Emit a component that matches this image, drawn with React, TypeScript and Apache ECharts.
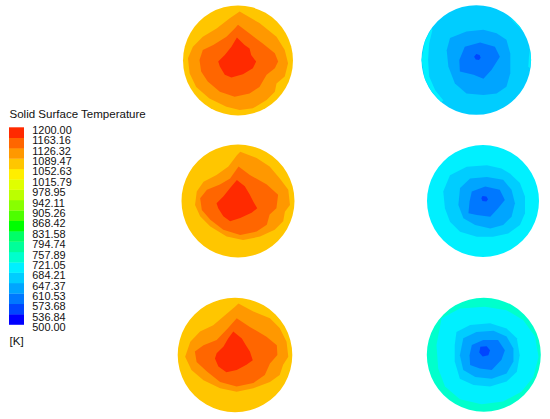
import React, { useEffect, useRef } from "react";
import * as echarts from "echarts";

// ---------- legend data ----------
const LEGEND_TITLE = "Solid Surface Temperature";
const LEGEND_UNIT = "[K]";
const LEGEND_TICKS = [
  "500.00", "536.84", "573.68", "610.53", "647.37", "684.21", "721.05",
  "757.89", "794.74", "831.58", "868.42", "905.26", "942.11", "978.95",
  "1015.79", "1052.63", "1089.47", "1126.32", "1163.16", "1200.00",
];
// band colours, lowest band (500-536.84) first
const BAND_COLORS = [
  "#0000ff", "#0046ff", "#0078ff", "#00a5ff", "#00cdff", "#00f0ff", "#00ffcc",
  "#00ff99", "#00ff66", "#00ff00", "#4dff00", "#88ff00", "#bbff00", "#e0ff00",
  "#ffee00", "#ffc600", "#ff9800", "#ff6600", "#ff2a00",
];

// ---------- contour polygons (disc-normalised coordinates, radius = 1) ----------
// top-left disc
const TL_16 = [[0.03,0.89],[0.39,0.68],[0.70,0.43],[0.85,0.19],[0.91,-0.05],[0.85,-0.29],[0.70,-0.42],[0.67,-0.57],[0.52,-0.72],[0.27,-0.87],[0.03,-0.90],[-0.21,-0.84],[-0.52,-0.69],[-0.76,-0.48],[-0.88,-0.23],[-0.91,0.04],[-0.82,0.25],[-0.64,0.43],[-0.39,0.58],[-0.15,0.77]];
const TL_17 = [[0,0.65],[0.21,0.49],[0.45,0.31],[0.67,0.13],[0.73,-0.02],[0.67,-0.14],[0.52,-0.26],[0.39,-0.48],[0.21,-0.60],[-0.06,-0.66],[-0.33,-0.57],[-0.55,-0.38],[-0.67,-0.20],[-0.70,0.01],[-0.64,0.19],[-0.45,0.28],[-0.21,0.43],[-0.06,0.58]];
const TL_18 = [[-0.02,0.42],[0.12,0.28],[0.21,0.22],[0.24,0.10],[0.33,-0.02],[0.27,-0.14],[0.09,-0.25],[-0.12,-0.31],[-0.24,-0.26],[-0.33,-0.11],[-0.36,-0.02],[-0.24,0.10],[-0.12,0.25]];
// middle-left disc
const ML_16 = [[0.04,0.87],[0.33,0.76],[0.56,0.61],[0.74,0.40],[0.89,0.20],[0.92,-0.07],[0.83,-0.19],[0.80,-0.36],[0.65,-0.51],[0.39,-0.63],[0.09,-0.69],[-0.20,-0.63],[-0.49,-0.45],[-0.67,-0.27],[-0.76,-0.07],[-0.73,0.17],[-0.61,0.34],[-0.38,0.46],[-0.17,0.61],[-0.02,0.81]];
const ML_17 = [[0.01,0.61],[0.21,0.46],[0.51,0.29],[0.71,0.11],[0.68,-0.13],[0.56,-0.24],[0.51,-0.42],[0.33,-0.54],[0.04,-0.60],[-0.26,-0.51],[-0.49,-0.33],[-0.64,-0.16],[-0.67,0.05],[-0.55,0.20],[-0.32,0.29],[-0.14,0.40]];
const ML_18 = [[-0.02,0.37],[0.12,0.26],[0.21,0.11],[0.27,-0.01],[0.34,-0.13],[0.24,-0.21],[0.04,-0.30],[-0.14,-0.36],[-0.26,-0.27],[-0.35,-0.13],[-0.38,-0.04],[-0.26,0.08],[-0.14,0.23]];
// bottom-left disc
const BL_16 = [[0.06,0.90],[0.32,0.76],[0.61,0.64],[0.78,0.47],[0.90,0.23],[0.93,-0.03],[0.84,-0.17],[0.78,-0.35],[0.61,-0.47],[0.32,-0.58],[0.03,-0.64],[-0.26,-0.58],[-0.55,-0.44],[-0.76,-0.26],[-0.87,-0.03],[-0.78,0.23],[-0.61,0.41],[-0.38,0.52],[-0.17,0.70],[0,0.84]];
const BL_17 = [[0.03,0.64],[0.26,0.49],[0.55,0.32],[0.73,0.17],[0.74,0],[0.61,-0.15],[0.52,-0.35],[0.32,-0.49],[0.03,-0.55],[-0.26,-0.47],[-0.49,-0.29],[-0.67,-0.12],[-0.70,0.06],[-0.55,0.17],[-0.32,0.26],[-0.12,0.47]];
const BL_18 = [[-0.03,0.41],[0.12,0.29],[0.19,0.17],[0.26,0.06],[0.31,-0.09],[0.20,-0.17],[0.03,-0.26],[-0.15,-0.30],[-0.29,-0.20],[-0.35,-0.06],[-0.32,0.03],[-0.20,0.15],[-0.12,0.29]];
// top-right disc
const TR_5L = [[-0.82,0.57],[-0.94,0.34],[-1,0],[-0.94,-0.34],[-0.82,-0.57],[-0.64,-0.77],[-0.60,-0.74],[-0.75,-0.55],[-0.86,-0.30],[-0.88,0],[-0.86,0.30],[-0.80,0.55]];
const TR_5R = [[0.98,0.20],[1,0],[0.98,-0.15],[0.95,-0.12],[0.96,0.05]];
const TR_5T = [[0.60,0.80],[0.78,0.63],[0.86,0.51],[0.80,0.58],[0.66,0.72]];
const TR_3 = [[-0.48,0.40],[-0.18,0.52],[0.13,0.55],[0.37,0.49],[0.55,0.37],[0.62,0.12],[0.62,-0.24],[0.55,-0.49],[0.37,-0.61],[0.13,-0.64],[-0.18,-0.61],[-0.39,-0.43],[-0.51,-0.12],[-0.54,0.18]];
const TR_2 = [[-0.21,0.24],[0.07,0.32],[0.34,0.24],[0.43,0.06],[0.28,-0.18],[0.13,-0.34],[-0.05,-0.27],[-0.30,-0.21],[-0.31,0]];
const TR_1 = [[0,0.11],[0.06,0.09],[0.08,0.04],[0.05,0],[-0.01,0.01],[-0.04,0.06]];
// middle-right disc
const MR_4 = [[-0.59,0.46],[-0.29,0.61],[0.07,0.64],[0.33,0.58],[0.48,0.49],[0.66,0.32],[0.75,0.08],[0.75,-0.22],[0.66,-0.43],[0.45,-0.58],[0.18,-0.64],[-0.11,-0.64],[-0.41,-0.55],[-0.59,-0.37],[-0.68,-0.13],[-0.71,0.17]];
const MR_3 = [[-0.41,0.23],[-0.23,0.40],[0.07,0.43],[0.36,0.38],[0.51,0.20],[0.57,-0.04],[0.51,-0.28],[0.36,-0.43],[0.13,-0.49],[-0.14,-0.43],[-0.35,-0.31],[-0.44,-0.07]];
const MR_2 = [[-0.20,0.17],[0.04,0.26],[0.30,0.20],[0.39,0.02],[0.27,-0.13],[0.13,-0.28],[-0.11,-0.25],[-0.26,-0.22],[-0.24,-0.01]];
const MR_1 = [[-0.01,0.09],[0.06,0.08],[0.09,0.03],[0.06,-0.01],[-0.01,0],[-0.03,0.05]];
// bottom-right disc
const BR_5 = [[-0.74,0.64],[-0.42,0.81],[0.02,0.84],[0.40,0.78],[0.69,0.61],[0.90,0.32],[0.96,-0.04],[0.87,-0.39],[0.66,-0.65],[0.34,-0.82],[-0.04,-0.87],[-0.42,-0.78],[-0.68,-0.56],[-0.80,-0.24],[-0.83,0.17]];
const BR_4 = [[-0.48,0.40],[-0.24,0.52],[0.11,0.55],[0.40,0.46],[0.58,0.29],[0.63,-0.01],[0.58,-0.30],[0.40,-0.47],[0.11,-0.56],[-0.18,-0.53],[-0.42,-0.42],[-0.51,-0.12],[-0.51,0.17]];
const BR_3 = [[-0.36,0.29],[-0.13,0.40],[0.17,0.42],[0.40,0.32],[0.52,0.11],[0.52,-0.12],[0.40,-0.33],[0.14,-0.42],[-0.15,-0.39],[-0.36,-0.27],[-0.42,-0.01]];
const BR_2 = [[-0.21,0.17],[-0.01,0.26],[0.25,0.26],[0.37,0.08],[0.31,-0.09],[0.14,-0.27],[-0.07,-0.24],[-0.24,-0.18],[-0.25,-0.01]];
const BR_1 = [[-0.06,0.14],[0.05,0.15],[0.11,0.08],[0.08,-0.01],[-0.02,-0.03],[-0.08,0.04]];

type Band = { level: number; pts: number[][] | null };

// each disc: band level painted from the outside in (pts null = whole disc)
const DISC_TL: Band[] = [{ level: 15, pts: null }, { level: 16, pts: TL_16 }, { level: 17, pts: TL_17 }, { level: 18, pts: TL_18 }];
const DISC_ML: Band[] = [{ level: 15, pts: null }, { level: 16, pts: ML_16 }, { level: 17, pts: ML_17 }, { level: 18, pts: ML_18 }];
const DISC_BL: Band[] = [{ level: 15, pts: null }, { level: 16, pts: BL_16 }, { level: 17, pts: BL_17 }, { level: 18, pts: BL_18 }];
const DISC_TR: Band[] = [{ level: 4, pts: null }, { level: 5, pts: TR_5L }, { level: 5, pts: TR_5R }, { level: 5, pts: TR_5T }, { level: 3, pts: TR_3 }, { level: 2, pts: TR_2 }, { level: 1, pts: TR_1 }];
const DISC_MR: Band[] = [{ level: 5, pts: null }, { level: 4, pts: MR_4 }, { level: 3, pts: MR_3 }, { level: 2, pts: MR_2 }, { level: 1, pts: MR_1 }];
const DISC_BR: Band[] = [{ level: 6, pts: null }, { level: 5, pts: BR_5 }, { level: 4, pts: BR_4 }, { level: 3, pts: BR_3 }, { level: 2, pts: BR_2 }, { level: 1, pts: BR_1 }];

const FONT = "Liberation Sans, Arial, Helvetica, sans-serif";
const TEXT_COLOR = "#111";

export default function App() {
  const ref = useRef<HTMLDivElement>(null);

  useEffect(() => {
    if (!ref.current) return;
    const chart = echarts.init(ref.current, undefined, { renderer: "svg" });

    // layout of each disc: centre x, centre y, radius (px)
    const discs: { bands: Band[]; cx: number; cy: number; r: number }[] = [
      { bands: DISC_TL, cx: 238, cy: 60.5, r: 55 },
      { bands: DISC_ML, cx: 238, cy: 201, r: 56.5 },
      { bands: DISC_BL, cx: 235, cy: 355, r: 57.3 },
      { bands: DISC_TR, cx: 476.3, cy: 60, r: 54.8 },
      { bands: DISC_MR, cx: 483, cy: 201, r: 56 },
      { bands: DISC_BR, cx: 483.8, cy: 354.7, r: 57 },
    ];

    const nBands = BAND_COLORS.length;
    const grids: any[] = [{ left: 9, top: 127.3, width: 15, height: 197.2 }];
    const xAxes: any[] = [{ type: "value", gridIndex: 0, min: 0, max: 1, show: false }];
    const yAxes: any[] = [
      { type: "value", gridIndex: 0, min: 0, max: nBands, interval: 1, show: false },
    ];
    const series: any[] = [
      {
        // colour bar: one rect per band, tick label at each band boundary
        type: "custom",
        xAxisIndex: 0,
        yAxisIndex: 0,
        silent: true,
        clip: false,
        data: LEGEND_TICKS.map((_, i) => [0, i]),
        renderItem: (params: any, api: any) => {
          const i = params.dataIndex;
          const children: any[] = [];
          const pb = api.coord([1, i]);
          if (i < nBands) {
            const p0 = api.coord([0, i]);
            const p1 = api.coord([1, i + 1]);
            children.push({
              type: "rect",
              shape: { x: p0[0], y: p1[1], width: p1[0] - p0[0], height: p0[1] - p1[1] + 0.3 },
              style: { fill: BAND_COLORS[i] },
            });
          }
          children.push({
            type: "text",
            x: pb[0] + 8.3,
            y: pb[1] + 2.8,
            scaleX: 1.06,
            style: {
              text: LEGEND_TICKS[i],
              fontSize: 10.3,
              fontFamily: FONT,
              fill: TEXT_COLOR,
              verticalAlign: "middle",
              align: "left",
            },
          });
          return { type: "group", children };
        },
      },
    ];

    discs.forEach((d, k) => {
      const gi = k + 1;
      grids.push({ left: d.cx - d.r, top: d.cy - d.r, width: 2 * d.r, height: 2 * d.r });
      xAxes.push({ type: "value", gridIndex: gi, min: -1, max: 1, show: false });
      yAxes.push({ type: "value", gridIndex: gi, min: -1, max: 1, show: false });
      series.push({
        type: "custom",
        xAxisIndex: gi,
        yAxisIndex: gi,
        silent: true,
        clip: false,
        data: d.bands.map((b) => [0, 0, b.level]),
        renderItem: (params: any, api: any) => {
          const b = d.bands[params.dataIndex];
          const fill = BAND_COLORS[b.level];
          if (!b.pts) {
            const c = api.coord([0, 0]);
            const s = api.size([1, 1]);
            return { type: "circle", shape: { cx: c[0], cy: c[1], r: s[0] }, style: { fill } };
          }
          return {
            type: "polygon",
            shape: { points: b.pts.map((p) => api.coord(p)) },
            style: { fill },
          };
        },
      });
    });

    chart.setOption({
      animation: false,
      backgroundColor: "#ffffff",
      grid: grids,
      xAxis: xAxes,
      yAxis: yAxes,
      series,
      graphic: [
        {
          type: "text",
          x: 9.5,
          y: 114.6,
          scaleX: 1.1,
          style: {
            text: LEGEND_TITLE,
            fontSize: 10.5,
            fontFamily: FONT,
            fill: TEXT_COLOR,
            verticalAlign: "middle",
          },
        },
        {
          type: "text",
          x: 9.5,
          y: 341,
          scaleX: 1.1,
          style: {
            text: LEGEND_UNIT,
            fontSize: 10.5,
            fontFamily: FONT,
            fill: TEXT_COLOR,
            verticalAlign: "middle",
          },
        },
      ],
    });

    return () => chart.dispose();
  }, []);

  return (
    <div
      ref={ref}
      style={{ position: "fixed", left: 0, top: 0, width: 550, height: 419, background: "#fff" }}
    />
  );
}
